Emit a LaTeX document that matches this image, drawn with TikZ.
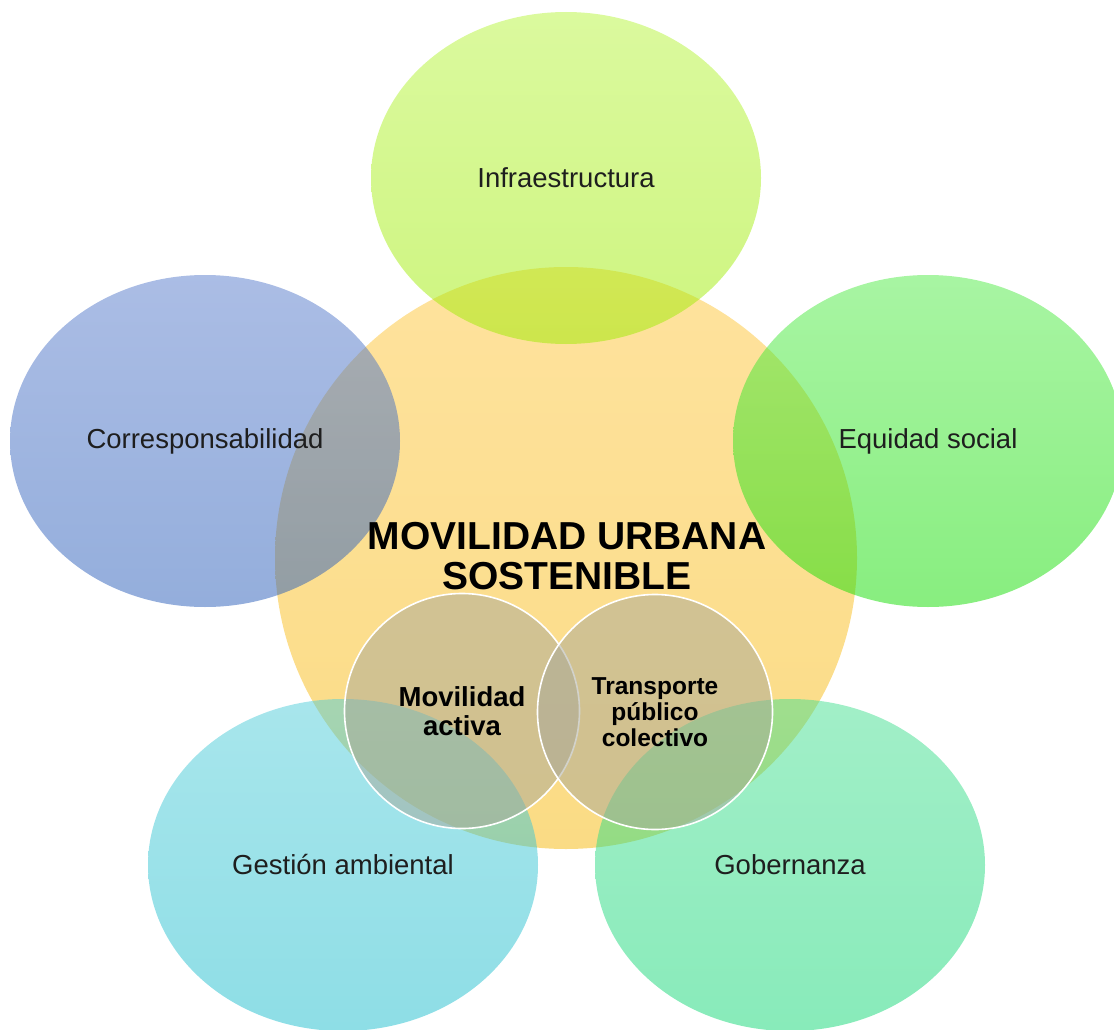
\documentclass[tikz,border=0pt]{standalone}
\usepackage{fontspec}
\setmainfont{Liberation Sans}
\usetikzlibrary{shapes.geometric}

\definecolor{hubTop}{RGB}{254,198,60}
\definecolor{hubBot}{RGB}{246,184,10}
\definecolor{infraTop}{RGB}{183,245,61}
\definecolor{infraBot}{RGB}{157,235,0}
\definecolor{correTop}{RGB}{87,123,203}
\definecolor{correBot}{RGB}{41,93,185}
\definecolor{equiTop}{RGB}{81,235,71}
\definecolor{equiBot}{RGB}{17,221,0}
\definecolor{gestTop}{RGB}{81,205,217}
\definecolor{gestBot}{RGB}{29,189,205}
\definecolor{gobTop}{RGB}{69,223,145}
\definecolor{gobBot}{RGB}{17,215,117}
\definecolor{coreGray}{RGB}{167,167,152}
\definecolor{labelInk}{RGB}{30,30,30}

\begin{document}
\begin{tikzpicture}[x=1pt,y=-1pt,
    hub/.style={circle, minimum size=582pt, inner sep=0pt, fill opacity=0.5},
    petal/.style={ellipse, minimum width=390pt, minimum height=332pt, inner sep=0pt,
      fill opacity=0.5, text opacity=1, text=labelInk,
      font=\fontsize{27.5}{32}\selectfont},
    core/.style={circle, minimum size=235pt, inner sep=0pt, draw=white, line width=1.6pt,
      fill=coreGray, fill opacity=0.5, text opacity=1, align=center}]
  \useasboundingbox (0,0) rectangle (1114,1030);

  % circulo central
  \node[hub, top color=hubTop, bottom color=hubBot] (hub) at (566,558) {};

  % elipses exteriores
  \node[petal, top color=infraTop, bottom color=infraBot] (infra) at (566,178) {Infraestructura};
  \node[petal, top color=correTop, bottom color=correBot] (corre) at (205,441) {Corresponsabilidad};
  \node[petal, top color=equiTop, bottom color=equiBot] (equi) at (928,441) {Equidad social};
  \node[petal, top color=gestTop, bottom color=gestBot] (gest) at (343,865) {Gestión ambiental};
  \node[petal, top color=gobTop, bottom color=gobBot] (gob) at (790,865) {Gobernanza};

  % titulo
  \node[align=center, font=\bfseries\fontsize{39}{40}\selectfont] (title) at (567,556)
    {MOVILIDAD URBANA\\SOSTENIBLE};

  % circulos interiores
  \node[core, font=\bfseries\fontsize{27.5}{29}\selectfont] (activa) at (462,711)
    {Movilidad\\activa};
  \node[core, font=\bfseries\fontsize{24.5}{26}\selectfont] (transp) at (655,712)
    {Transporte\\público\\colectivo};
\end{tikzpicture}
\end{document}
